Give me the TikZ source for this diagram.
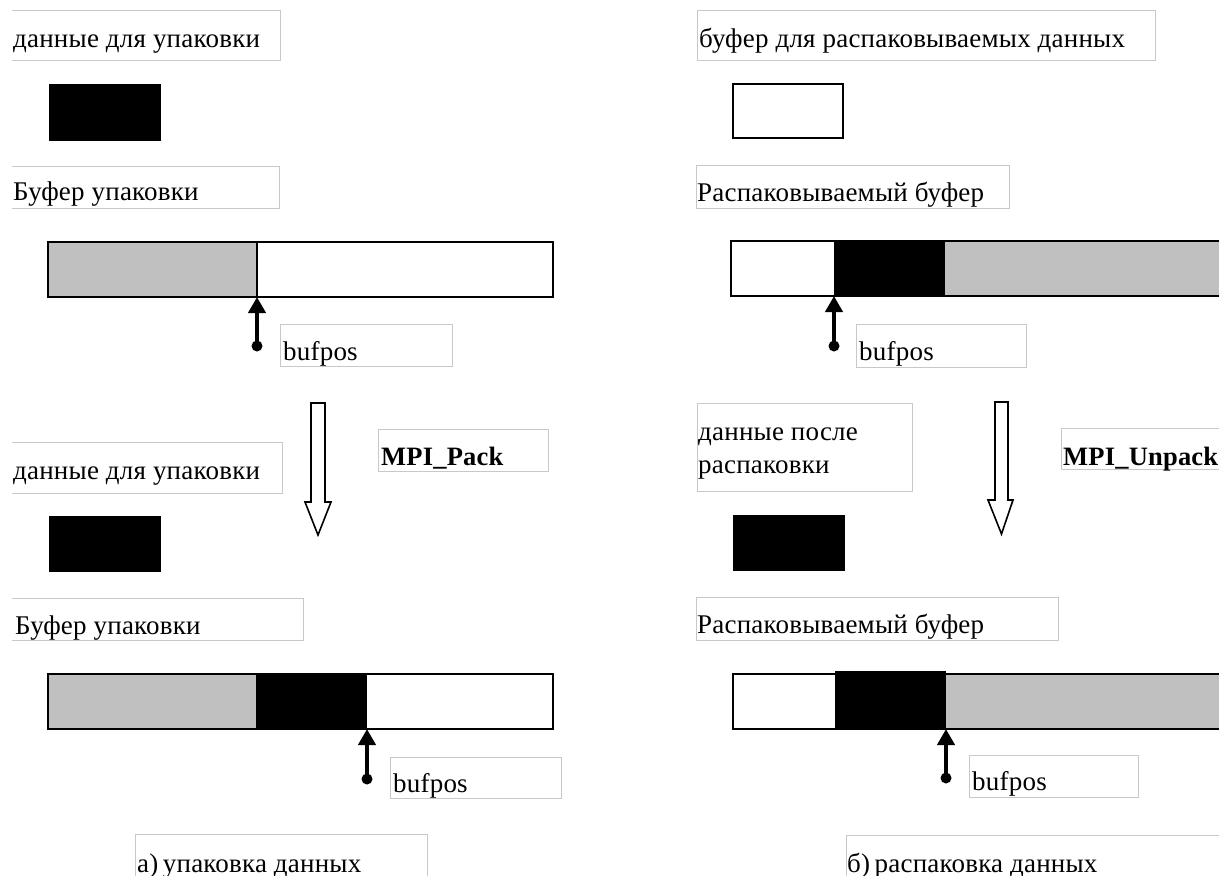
\documentclass[tikz,border=0pt]{standalone}
\usepackage{fontspec}
\setmainfont[LetterSpace=0.8]{Liberation Serif}
\usetikzlibrary{arrows.meta}
\definecolor{framegray}{RGB}{200,200,200}
\definecolor{bargray}{RGB}{192,192,192}
\tikzset{
  lbl/.style={font=\fontsize{27}{32}\selectfont, inner sep=0pt, anchor=base west},
  blbl/.style={lbl, font=\fontsize{26.5}{32}\selectfont\bfseries},
  frame/.style={draw=framegray, line width=1pt},
  barline/.style={draw=black, line width=2pt},
  ptr/.style={line width=4pt, -{Triangle[width=17pt,length=16pt]}},
  dotnode/.style={circle, fill=black, inner sep=0pt, minimum size=11pt},
  hollow/.style={draw=black, fill=white, line width=1.6pt, line join=miter}
}
\begin{document}
\begin{tikzpicture}[x=1pt,y=-1pt]
\useasboundingbox (0,0) rectangle (1219,876);
\clip (0,0) rectangle (1219,876);
\fill[white] (0,0) rectangle (1219,876);

% ---------------- left column ----------------
\draw[frame] (12,10) -- (280,10) -- (280,60) -- (12,60);
\node[lbl] (L1) at (13,47) {данные для упаковки};
\fill[black] (49,84) rectangle (161,141);
\draw[frame] (12,166) -- (279,166) -- (279,208) -- (12,208);
\node[lbl] (L2) at (13,200) {Буфер упаковки};

\fill[bargray] (48,242) rectangle (257,297);
\draw[barline] (48,242) rectangle (553,297);
\draw[barline] (257,242) -- (257,297);
\coordinate (LT1) at (257,297);
\node[dotnode] (LD1) at (257,346) {};
\draw[ptr] (LD1.center) -- (LT1);
\draw[frame] (280,324) rectangle (452,366);
\node[lbl] (L3) at (283,360) {bufpos};

\draw[hollow] (311,403) -- (325,403) -- (325,502) -- (331,502) -- (318,535) -- (305,502) -- (311,502) -- cycle;
\draw[frame] (378,429) rectangle (548,471);
\node[blbl] (L4) at (381,465) {MPI\_Pack};

\draw[frame] (12,442) -- (282,442) -- (282,493) -- (12,493);
\node[lbl] (L5) at (13,479) {данные для упаковки};
\fill[black] (49,516) rectangle (161,572);
\draw[frame] (12,598) -- (303,598) -- (303,640) -- (12,640);
\node[lbl] (L6) at (15,634) {Буфер упаковки};

\fill[bargray] (48,674) rectangle (257,729);
\draw[barline] (48,674) rectangle (553,729);
\fill[black] (256,673) rectangle (367,730);
\coordinate (LT2) at (367,729);
\node[dotnode] (LD2) at (367,779) {};
\draw[ptr] (LD2.center) -- (LT2);
\draw[frame] (390,757) rectangle (561,798);
\node[lbl] (L7) at (393,792) {bufpos};

\draw[frame] (135,880) -- (135,834) -- (427,834) -- (427,880);
\node[lbl] (L8) at (137,872) {а)\,упаковка данных};

% ---------------- right column ----------------
\draw[frame] (697,10) rectangle (1155,60);
\node[lbl] (R1) at (699,47) {буфер для распаковываемых данных};
\draw[line width=2pt] (733,84) rectangle (843,138);
\draw[frame] (696,165) rectangle (1009,208);
\node[lbl] (R2) at (697,201) {Распаковываемый буфер};

\fill[bargray] (945,241) rectangle (1225,296);
\fill[black] (834,241) rectangle (945,296);
\draw[barline] (731,241) rectangle (1225,296);
\coordinate (RT1) at (834,296);
\node[dotnode] (RD1) at (834,346) {};
\draw[ptr] (RD1.center) -- (RT1);
\draw[frame] (856,324) rectangle (1026,367);
\node[lbl] (R3) at (859,360) {bufpos};

\draw[frame] (697,403) rectangle (912,491);
\node[lbl] (R4) at (698,440) {данные после};
\node[lbl] (R5) at (698,473) {распаковки};
\draw[hollow] (995,402) -- (1008,402) -- (1008,500) -- (1013,500) -- (1001.5,534) -- (988,500) -- (995,500) -- cycle;
\draw[frame] (1061,428) rectangle (1225,469);
\node[blbl] (R6) at (1063,465) {MPI\_Unpack};

\fill[black] (733,515) rectangle (845,571);
\draw[frame] (696,597) rectangle (1058,640);
\node[lbl] (R7) at (697,633) {Распаковываемый буфер};

\fill[bargray] (946,674) rectangle (1225,729);
\draw[barline] (733,674) rectangle (1225,729);
\fill[black] (835,671) rectangle (946,730);
\coordinate (RT2) at (946,729);
\node[dotnode] (RD2) at (946,778) {};
\draw[ptr] (RD2.center) -- (RT2);
\draw[frame] (969,755) rectangle (1138,797);
\node[lbl] (R8) at (972,790) {bufpos};

\draw[frame] (846,880) -- (846,835) -- (1225,835);
\node[lbl] (R9) at (847,872) {б)\,распаковка данных};
\end{tikzpicture}
\end{document}
